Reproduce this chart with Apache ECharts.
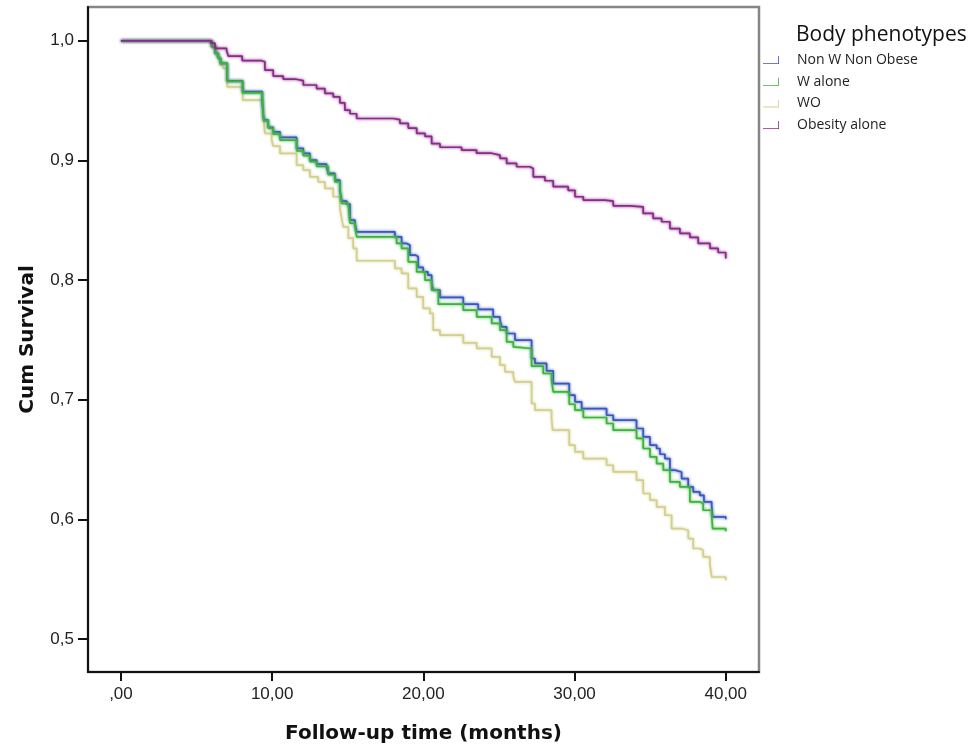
<!DOCTYPE html>
<html>
<head>
<meta charset="utf-8">
<script src="https://cdn.jsdelivr.net/npm/echarts@6/dist/echarts.min.js"></script>
<style>html,body{margin:0;padding:0;background:#fff}#c{width:973px;height:749px}</style>
</head>
<body>
<div id="c"></div>
<script>
// Kaplan-Meier steps: [time (months), cumulative survival after the drop]
const seriesNames = ['Non W Non Obese', 'W alone', 'WO', 'Obesity alone'];
const xTicks = [0, 10, 20, 30, 40];
const yTicks = [0.5, 0.6, 0.7, 0.8, 0.9, 1.0];

const nonWNonObese = [
  [0,1.0],[6.0,0.995],[6.22,0.9895],[6.44,0.9853],[6.59,0.9811],[7.03,0.9665],[8.05,0.9574],
  [9.35,0.9477],[9.45,0.9337],[9.74,0.9276],[10.07,0.9239],[10.52,0.9192],[11.62,0.9100],
  [12.06,0.9059],[12.5,0.9003],[12.94,0.8969],[13.6,0.8946],[13.71,0.8891],[14.15,0.8835],
  [14.48,0.875],[14.6,0.866],[14.93,0.8635],[15.15,0.850],[15.48,0.8473],[15.59,0.8403],
  [18.12,0.8361],[18.56,0.8306],[18.9,0.8292],[19.11,0.8208],[19.5,0.8194],[19.66,0.8105],
  [19.99,0.8069],[20.3,0.8041],[20.55,0.7975],[20.65,0.7916],[21.1,0.7855],[22.64,0.7798],
  [23.63,0.7754],[24.62,0.7692],[25.07,0.7665],[25.18,0.7609],[25.51,0.7553],[26.06,0.7497],
  [27.16,0.7344],[27.38,0.7303],[28.15,0.7241],[28.59,0.7135],[29.65,0.7038],[30.03,0.6982],
  [30.47,0.6926],[32.12,0.6870],[32.56,0.6829],[34.10,0.6759],[34.54,0.6689],[34.99,0.6620],
  [35.43,0.6592],[35.65,0.6544],[35.98,0.6508],[36.31,0.6411],[36.64,0.6396],[37.08,0.6341],
  [37.52,0.6271],[37.85,0.6229],[38.29,0.6201],[38.56,0.6146],[39.07,0.6118],[39.13,0.6020],
  [40.0,0.600]
];
const wAlone = [
  [0,1.0],[6.0,0.995],[6.22,0.9895],[6.44,0.9853],[6.59,0.9811],[7.03,0.9660],[8.05,0.9565],
  [9.35,0.9470],[9.45,0.9330],[9.74,0.9270],[10.07,0.9220],[10.52,0.9170],[11.62,0.9080],
  [12.06,0.9040],[12.5,0.8990],[12.94,0.8950],[13.71,0.8880],[14.15,0.8820],[14.48,0.8770],
  [14.6,0.8640],[15.04,0.8615],[15.15,0.8475],[15.48,0.8445],[15.59,0.8361],
  [18.23,0.8306],[18.56,0.8264],[19.0,0.8152],[19.56,0.8069],[20.11,0.7999],[20.55,0.7916],
  [20.99,0.7798],[22.64,0.7748],[23.53,0.7692],[24.52,0.7637],[25.07,0.7581],[25.51,0.7483],
  [25.95,0.7441],[26.06,0.7428],[27.16,0.7280],[27.93,0.7219],[28.48,0.7163],[28.59,0.7065],
  [29.65,0.6962],[30.03,0.6912],[30.58,0.6851],[32.12,0.6801],[32.56,0.6745],[34.10,0.6676],
  [34.54,0.6592],[34.99,0.6522],[35.43,0.6466],[35.87,0.6411],[36.31,0.6313],[36.97,0.6271],
  [37.63,0.6146],[38.29,0.6132],[38.51,0.6076],[39.07,0.6034],[39.13,0.5923],[40.0,0.590]
];
const wo = [
  [0,1.0],[6.0,0.995],[6.33,0.9866],[6.55,0.9797],[6.75,0.9769],[7.03,0.9615],[8.05,0.9504],
  [9.41,0.9365],[9.52,0.9226],[9.97,0.9170],[10.07,0.9120],[10.52,0.9059],[11.62,0.8961],
  [12.06,0.8919],[12.5,0.8863],[13.05,0.8821],[13.49,0.8766],[14.04,0.8696],[14.48,0.8600],
  [14.6,0.8515],[14.7,0.8445],[15.04,0.8350],[15.36,0.8264],[15.59,0.8161],
  [18.12,0.8097],[18.56,0.8055],[19.0,0.7930],[19.56,0.7860],[19.99,0.7763],[20.44,0.7721],
  [20.65,0.7581],[21.1,0.7539],[22.64,0.7475],[23.53,0.7428],[24.52,0.7358],[25.07,0.7288],
  [25.4,0.7232],[25.95,0.7191],[26.06,0.7149],[27.16,0.6968],[27.38,0.6912],[28.48,0.6843],
  [28.55,0.6745],[29.65,0.6620],[30.03,0.6563],[30.58,0.6508],[32.12,0.6452],[32.56,0.6396],
  [34.10,0.6327],[34.54,0.6216],[34.99,0.6160],[35.43,0.6104],[35.98,0.6034],[36.42,0.5923],
  [37.08,0.5909],[37.52,0.5839],[37.85,0.5756],[38.29,0.5742],[38.51,0.5686],[38.95,0.5630],
  [39.07,0.5518],[40.0,0.549]
];
const obesityAlone = [
  [0,1.0],[5.95,0.998],[6.22,0.9936],[6.99,0.9916],[7.10,0.9872],[8.02,0.9833],[9.31,0.9824],
  [9.52,0.9755],[10.07,0.9705],[10.73,0.968],[11.51,0.9666],[12.06,0.963],[12.94,0.960],
  [13.49,0.956],[14.04,0.953],[14.48,0.948],[14.81,0.942],[15.15,0.939],[15.59,0.935],
  [18.01,0.934],[18.45,0.931],[19.0,0.927],[19.56,0.9226],[20.11,0.920],[20.55,0.914],
  [21.1,0.911],[22.53,0.9086],[23.52,0.906],[24.52,0.9044],[25.07,0.9017],[25.51,0.8975],
  [26.17,0.8947],[27.05,0.8933],[27.27,0.8863],[28.04,0.883],[28.59,0.878],[29.58,0.875],
  [30.03,0.8696],[30.58,0.8668],[32.01,0.866],[32.56,0.862],[33.66,0.8612],[34.54,0.8557],
  [35.2,0.8515],[35.76,0.8487],[36.31,0.843],[36.97,0.839],[37.63,0.8356],[38.18,0.8306],
  [38.96,0.8264],[39.5,0.823],[40.0,0.818]
];

const seriesData = [nonWNonObese, wAlone, wo, obesityAlone];
const colors = ['#3a56bf', '#3cb33c', '#d3cf8e', '#8a2a8a'];

const chart = echarts.init(document.getElementById('c'), null, {renderer: 'canvas'});
const stepIcon = 'path://M0,9 L19,9 L19,0 L20,0 L20,10 L0,10 Z';

chart.setOption({
  animation: false,
  backgroundColor: '#fff',
  title: {
    text: 'Body phenotypes',
    left: 791, top: 20,
    textStyle: {fontFamily: 'Open Sans', fontSize: 21, fontWeight: 'normal', color: '#111'}
  },
  legend: {
    orient: 'vertical',
    left: 758, top: 48,
    itemWidth: 16, itemHeight: 8,
    itemGap: 7.7,
    icon: stepIcon,
    data: seriesNames,
    textStyle: {fontFamily: 'Open Sans', fontSize: 14, color: '#222', padding: [0, 0, 0, 13]}
  },
  grid: {
    left: 88, top: 7, right: 214, bottom: 77,
    show: true, borderColor: '#858585', borderWidth: 2.5, backgroundColor: '#fff'
  },
  xAxis: {
    type: 'value',
    min: -2.18, max: 42.2,
    name: 'Follow-up time (months)',
    nameLocation: 'middle', nameGap: 52,
    nameTextStyle: {fontFamily: 'DejaVu Sans', fontWeight: 'bold', fontSize: 20, color: '#111'},
    axisLine: {show: true, onZero: false, lineStyle: {color: '#111', width: 2}},
    axisTick: {show: true, customValues: xTicks, length: 9, lineStyle: {color: '#111', width: 2}},
    axisLabel: {
      customValues: xTicks, margin: 14,
      fontFamily: 'Liberation Sans', fontSize: 17, color: '#222',
      formatter: v => v === 0 ? ',00' : v.toFixed(2).replace('.', ',')
    },
    splitLine: {show: false}
  },
  yAxis: {
    type: 'value',
    min: 0.4724, max: 1.0282,
    name: 'Cum Survival',
    nameLocation: 'middle', nameGap: 50,
    nameRotate: 90,
    nameTextStyle: {fontFamily: 'DejaVu Sans', fontWeight: 'bold', fontSize: 20, color: '#111'},
    axisLine: {show: true, onZero: false, lineStyle: {color: '#111', width: 2}},
    axisTick: {show: true, customValues: yTicks, length: 10, lineStyle: {color: '#111', width: 2}},
    axisLabel: {
      customValues: yTicks, margin: 14,
      fontFamily: 'Liberation Sans', fontSize: 17, color: '#222',
      formatter: v => v.toFixed(1).replace('.', ',')
    },
    splitLine: {show: false}
  },
  series: seriesNames.map((name, i) => ({
    name: name,
    type: 'line',
    step: 'end',
    data: seriesData[i],
    symbol: 'none',
    color: colors[i],
    z: i === 3 ? 5 : (i === 2 ? 2 : (i === 0 ? 3 : 4)),
    lineStyle: {width: 1.7, color: colors[i], shadowColor: colors[i], shadowBlur: 3, opacity: 1}
  }))
});
</script>
</body>
</html>
